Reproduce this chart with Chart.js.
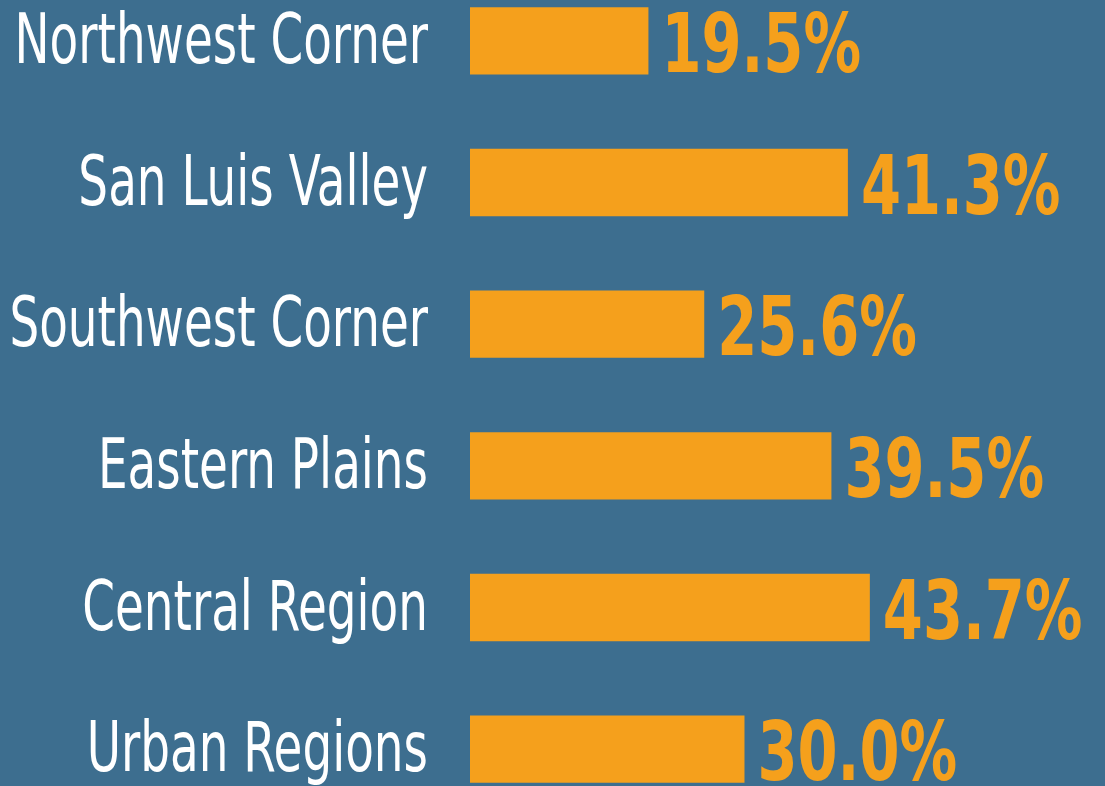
<!DOCTYPE html>
<html>
<head>
<meta charset="utf-8">
<script src="https://cdn.jsdelivr.net/npm/chart.js@4.4.1/dist/chart.umd.min.js"></script>
<style>
  html, body { margin: 0; padding: 0; background: #3d6e8f; overflow: hidden; }
  #wrap { position: absolute; left: 0; top: -30px; width: 1105px; height: 850px; }
</style>
</head>
<body>
<div id="wrap"><canvas id="chart"></canvas></div>
<script>
const regions = ["Northwest Corner", "San Luis Valley", "Southwest Corner", "Eastern Plains", "Central Region", "Urban Regions"];
const shares = [19.5, 41.3, 25.6, 39.5, 43.7, 30.0];

const BG = '#3d6e8f';
const ORANGE = '#f5a01c';
const FONT = '"DejaVu Sans Condensed", "DejaVu Sans", sans-serif';
const SQUEEZE_LABEL = 0.755; // the original uses a condensed face, squeeze to match
const SQUEEZE_VALUE = 0.78;

// category names (right of the axis) and "xx.x%" past the end of each bar
const textLabels = {
  id: 'textLabels',
  afterDatasetsDraw(chart) {
    const ctx = chart.ctx;
    const yScale = chart.scales.y;
    const meta = chart.getDatasetMeta(0);
    ctx.save();
    ctx.textBaseline = 'alphabetic';

    ctx.save();
    ctx.scale(SQUEEZE_LABEL, 1);
    ctx.fillStyle = '#ffffff';
    ctx.font = '69px ' + FONT;
    ctx.textAlign = 'right';
    yScale.ticks.forEach((t, i) => {
      const y = yScale.getPixelForTick(i);
      ctx.fillText(yScale.getLabelForValue(t.value), 428 / SQUEEZE_LABEL, y + 22);
    });
    ctx.restore();

    ctx.save();
    ctx.scale(SQUEEZE_VALUE, 1);
    ctx.fillStyle = ORANGE;
    ctx.font = 'bold 82px ' + FONT;
    ctx.textAlign = 'left';
    meta.data.forEach((bar, i) => {
      ctx.fillText(shares[i].toFixed(1) + '%', (bar.x + 13) / SQUEEZE_VALUE, bar.y + 31);
    });
    ctx.restore();

    ctx.restore();
  }
};

new Chart(document.getElementById('chart'), {
  type: 'bar',
  data: {
    labels: regions,
    datasets: [{
      data: shares,
      backgroundColor: ORANGE,
      borderWidth: 0,
      categoryPercentage: 1,
      barPercentage: 0.475
    }]
  },
  options: {
    indexAxis: 'y',
    responsive: true,
    maintainAspectRatio: false,
    animation: false,
    layout: { padding: 0 },
    plugins: { legend: { display: false }, tooltip: { enabled: false } },
    scales: {
      x: { display: false, min: 0, max: 69.4 },
      y: {
        border: { display: false },
        grid: { display: false, drawTicks: false },
        ticks: { display: false },
        afterFit(scale) {
          scale.width = 470;
          scale.paddingTop = 0;
          scale.paddingBottom = 0;
        }
      }
    }
  },
  plugins: [textLabels]
});
</script>
</body>
</html>
